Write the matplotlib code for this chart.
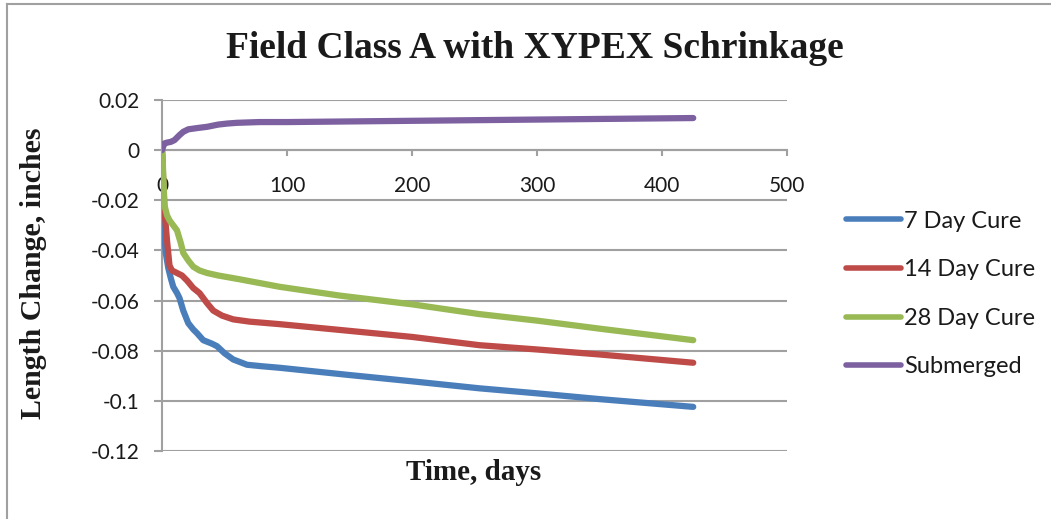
import matplotlib.pyplot as plt
from matplotlib.lines import Line2D

plt.rcParams["axes.unicode_minus"] = False

# Length change readings (inches) against time (days)
days_7 = [0, 0.5, 1, 2, 3, 5, 7, 9, 12, 14, 17, 21, 25, 28, 33, 40, 44, 50, 57,
          68, 80, 94, 150, 200, 254, 300, 350, 425]
cure_7 = [0, -0.015, -0.024, -0.035, -0.041, -0.047, -0.051, -0.0545, -0.057,
          -0.059, -0.064, -0.069, -0.0715, -0.073, -0.0758, -0.0772, -0.0782,
          -0.081, -0.0835, -0.0856, -0.0862, -0.0868, -0.0897, -0.0922,
          -0.095, -0.097, -0.0993, -0.1024]

days_14 = [0, 1, 2, 4, 5, 6, 8, 12, 16, 20, 25, 30, 36, 41, 48, 57, 70, 94,
           142, 200, 254, 300, 350, 425]
cure_14 = [0, -0.012, -0.024, -0.036, -0.041, -0.046, -0.048, -0.049, -0.050,
           -0.052, -0.055, -0.057, -0.061, -0.064, -0.066, -0.0675, -0.0684,
           -0.0694, -0.0717, -0.0745, -0.0778, -0.0795, -0.0815, -0.0848]

days_28 = [0, 0.5, 1, 2, 4, 6, 9, 12, 15, 17, 21, 25, 30, 36, 45, 62, 94, 142,
           200, 254, 300, 350, 425]
cure_28 = [0, -0.003, -0.010, -0.022, -0.026, -0.028, -0.030, -0.032, -0.037,
           -0.041, -0.044, -0.0465, -0.048, -0.049, -0.050, -0.0515, -0.0545,
           -0.058, -0.0615, -0.0654, -0.068, -0.0712, -0.0758]

days_sub = [0, 1, 2, 4, 7, 10, 14, 17, 21, 28, 36, 45, 52, 60, 78, 100, 200,
            300, 425]
submerged = [0, 0.0015, 0.0027, 0.003, 0.0033, 0.004, 0.006, 0.0073, 0.0083,
             0.0088, 0.0093, 0.0102, 0.0106, 0.0109, 0.0112, 0.0112, 0.0117,
             0.0122, 0.0128]

series = [
    (days_7, cure_7, "7 Day Cure", "#4A7EBB"),
    (days_14, cure_14, "14 Day Cure", "#BE4B48"),
    (days_28, cure_28, "28 Day Cure", "#98B954"),
    (days_sub, submerged, "Submerged", "#7D60A0"),
]

x_ticks = [0, 100, 200, 300, 400, 500]
y_ticks = [0.02, 0, -0.02, -0.04, -0.06, -0.08, -0.1, -0.12]
y_tick_labels = ["0.02", "0", "-0.02", "-0.04", "-0.06", "-0.08", "-0.1", "-0.12"]

grid_gray = "#A0A0A0"
tick_font = "Lato"
text_color = "#1a1a1a"

fig = plt.figure(figsize=(10.51, 5.19), dpi=100)
ax = fig.add_axes([162 / 1051, 1 - 451 / 519, 625 / 1051, 351 / 519])

for x, y, label, color in series:
    ax.plot(x, y, color=color, lw=4.5, label=label,
            solid_joinstyle="round", solid_capstyle="round", zorder=3)

ax.spines["top"].set_visible(False)
ax.spines["right"].set_visible(False)
ax.spines["bottom"].set_position(("data", 0))
for s in ("left", "bottom"):
    ax.spines[s].set_color(grid_gray)
    ax.spines[s].set_linewidth(1.5)
    ax.spines[s].set_zorder(2)

ax.set_xlim(0, 500)
ax.set_ylim(-0.12, 0.02)
ax.set_xticks(x_ticks)
ax.set_xticklabels([str(t) for t in x_ticks])
ax.set_yticks(y_ticks)
ax.set_yticklabels(y_tick_labels)
for lbl in ax.get_xticklabels() + ax.get_yticklabels():
    lbl.set_fontfamily(tick_font)

ax.grid(axis="y", color=grid_gray, lw=1.5, zorder=1)
ax.tick_params(axis="y", length=6, width=1.5, color=grid_gray, pad=10,
               labelcolor=text_color, labelsize=15)
ax.tick_params(axis="x", length=4.5, width=1.5, color=grid_gray, pad=14,
               labelcolor=text_color, labelsize=15)

fig.text(535 / 1051, 1 - 48 / 519, "Field Class A with XYPEX Schrinkage",
         ha="center", va="center", fontfamily="Liberation Serif",
         fontweight="bold", fontsize=27, color=text_color)
fig.text(34 / 1051, 1 - 273 / 519, "Length Change, inches", rotation=90,
         ha="center", va="center", fontfamily="Liberation Serif",
         fontweight="bold", fontsize=21.5, color=text_color)
fig.text(474 / 1051, 1 - 472 / 519, "Time, days", ha="center", va="center",
         fontfamily="Liberation Serif", fontweight="bold", fontsize=21,
         color=text_color)

leg = fig.legend(loc="center left", bbox_to_anchor=(846 / 1051, 1 - 294 / 519),
                 frameon=False, borderpad=0, borderaxespad=0,
                 handlelength=2.35, handletextpad=0.12, labelspacing=1.17,
                 prop={"family": tick_font, "size": 17})
for h in leg.legend_handles:
    h.set_solid_capstyle("round")
    h.set_linewidth(4)
for t in leg.get_texts():
    t.set_color(text_color)

# thin outer frame on top and left
fig.add_artist(Line2D([7 / 1051, 1], [1 - 4 / 519, 1 - 4 / 519],
                      transform=fig.transFigure, color=grid_gray, lw=1.5))
fig.add_artist(Line2D([7 / 1051, 7 / 1051], [0, 1 - 4 / 519],
                      transform=fig.transFigure, color=grid_gray, lw=1.5))

fig.savefig("out.png", dpi=100)
